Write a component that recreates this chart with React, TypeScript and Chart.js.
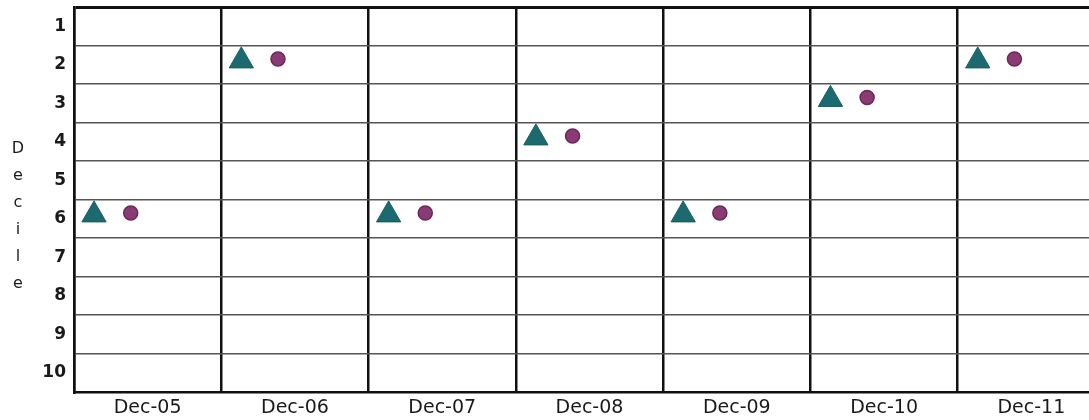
import { useEffect, useRef } from 'react';
import { Chart, registerables } from 'chart.js';

Chart.register(...registerables);

const categories = ['Dec-05', 'Dec-06', 'Dec-07', 'Dec-08', 'Dec-09', 'Dec-10', 'Dec-11'];
const decileLabels = ['1', '2', '3', '4', '5', '6', '7', '8', '9', '10'];
const triangleValues = [5.9, 1.9, 5.9, 3.9, 5.9, 2.9, 1.9];
const circleValues = [5.85, 1.85, 5.85, 3.85, 5.85, 2.85, 1.85];
const titleLetters = ['D', 'e', 'c', 'i', 'l', 'e'];

const TRI_SHIFT = -0.364;
const DOT_SHIFT = -0.115;

export default function App() {
  const ref = useRef<HTMLCanvasElement>(null);

  useEffect(() => {
    if (!ref.current) return;
    const chart = new Chart(ref.current, {
      type: 'scatter',
      data: {
        datasets: [
          {
            label: 'Triangle',
            data: triangleValues.map((v, i) => ({ x: i + TRI_SHIFT, y: v })),
            pointStyle: 'triangle',
            pointRadius: 14,
            backgroundColor: '#1b6a6f',
            borderColor: '#175c60',
            borderWidth: 1,
          },
          {
            label: 'Circle',
            data: circleValues.map((v, i) => ({ x: i + DOT_SHIFT, y: v })),
            pointStyle: 'circle',
            pointRadius: 7,
            backgroundColor: '#8b3b74',
            borderColor: '#6a2858',
            borderWidth: 1.5,
          },
        ],
      },
      options: {
        animation: false,
        responsive: true,
        maintainAspectRatio: false,
        layout: { padding: { top: 0, right: 15, left: 0, bottom: 0 } },
        plugins: { legend: { display: false }, tooltip: { enabled: false } },
        scales: {
          x: {
            type: 'linear',
            min: -0.5,
            max: 6.5,
            afterBuildTicks: (s: any) => {
              s.ticks = categories.map((_, i) => ({ value: i }));
            },
            afterFit: (s: any) => {
              s.height = 28;
              s.paddingLeft = 0;
              s.paddingRight = 0;
            },
            ticks: {
              callback: (v: any) => categories[v as number],
              font: { family: 'DejaVu Sans', size: 19 },
              color: '#1a1a1a',
              padding: 5,
              maxRotation: 0,
              autoSkip: false,
            },
            grid: { offset: true, color: '#111', lineWidth: 2.5, drawTicks: false },
            border: { color: '#111', width: 2.5 },
          },
          y: {
            type: 'linear',
            reverse: true,
            min: 0.5,
            max: 10.5,
            afterBuildTicks: (s: any) => {
              s.ticks = decileLabels.map((_, i) => ({ value: i + 1 }));
            },
            afterFit: (s: any) => {
              s.width = 74;
              s.paddingTop = 0;
              s.paddingBottom = 0;
            },
            ticks: {
              callback: (v: any) => decileLabels[(v as number) - 1],
              font: { family: 'DejaVu Sans', size: 17, weight: 'bold' },
              color: '#1a1a1a',
              padding: 8,
              autoSkip: false,
            },
            grid: {
              offset: true,
              color: (ctx: any) => (ctx.index === 0 ? '#111' : '#555'),
              lineWidth: (ctx: any) => (ctx.index === 0 ? 3 : 1.5),
              drawTicks: false,
            },
            border: { color: '#111', width: 2.5 },
          },
        },
      },
    });
    return () => chart.destroy();
  }, []);

  return (
    <div
      style={{
        position: 'fixed',
        left: 0,
        top: 0,
        width: 1089,
        height: 420,
        overflow: 'hidden',
        background: '#fff',
      }}
    >
      <div style={{ position: 'absolute', left: 0, top: -8, width: 1120, height: 428 }}>
        <canvas ref={ref} />
      </div>
      <div
        style={{
          position: 'absolute',
          left: 10,
          top: 134,
          width: 16,
          textAlign: 'center',
          fontFamily: 'DejaVu Sans',
          fontSize: 16,
          lineHeight: '27px',
          color: '#1a1a1a',
        }}
      >
        {titleLetters.map((c, i) => (
          <div key={i}>{c}</div>
        ))}
      </div>
    </div>
  );
}
